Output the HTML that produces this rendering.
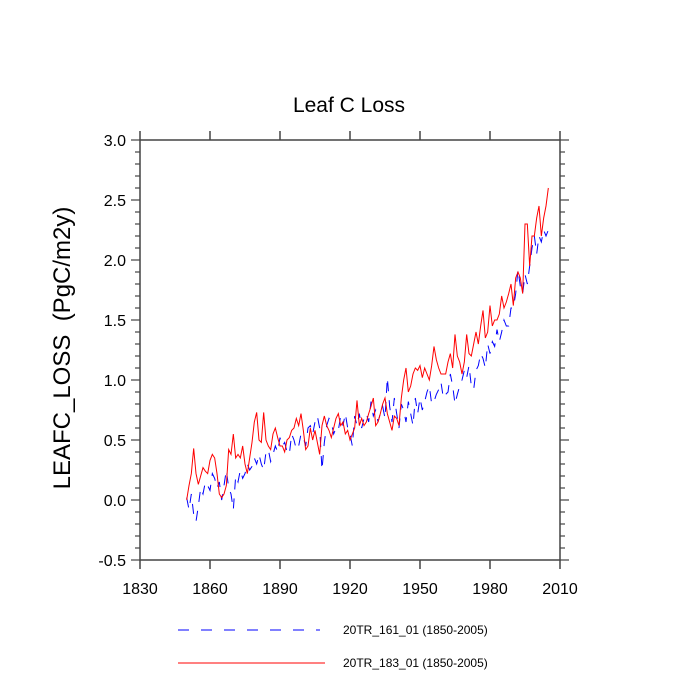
<!DOCTYPE html>
<html><head><meta charset="utf-8"><style>
html,body{margin:0;padding:0;background:#fff;}
svg{display:block;font-family:"Liberation Sans",sans-serif;}
</style></head><body>
<svg id="chart" width="700" height="700" viewBox="0 0 700 700">
<text x="349" y="112" font-size="21" text-anchor="middle">Leaf C Loss</text>
<text transform="translate(70,348) rotate(-90)" font-size="24" text-anchor="middle">LEAFC_LOSS &#160;(PgC/m2y)</text>
<g id="axes"></g>
<g id="series"></g>
<g>
<line x1="178" y1="630" x2="320" y2="630" stroke="#0000ff" stroke-width="1" stroke-dasharray="11,12"/>
<text x="343" y="634" font-size="12">20TR_161_01 (1850-2005)</text>
<line x1="178" y1="663" x2="325" y2="663" stroke="#ff0000" stroke-width="1"/>
<text x="343" y="667" font-size="12">20TR_183_01 (1850-2005)</text>
</g>
</svg>
<script>
const startYear = 1850;
const redValues = [0.00,0.12,0.22,0.43,0.22,0.13,0.20,0.27,0.24,0.22,
0.33,0.38,0.35,0.22,0.05,0.02,0.05,0.12,0.42,0.38,
0.55,0.35,0.38,0.35,0.45,0.30,0.22,0.35,0.48,0.65,
0.73,0.50,0.48,0.73,0.50,0.45,0.42,0.55,0.60,0.52,
0.45,0.45,0.40,0.50,0.52,0.58,0.60,0.68,0.62,0.72,
0.58,0.42,0.45,0.60,0.50,0.58,0.48,0.38,0.62,0.70,
0.62,0.58,0.52,0.60,0.68,0.72,0.62,0.65,0.55,0.58,
0.50,0.55,0.60,0.83,0.62,0.68,0.62,0.65,0.72,0.78,
0.85,0.62,0.65,0.72,0.80,0.85,0.72,0.65,0.58,0.70,
0.68,0.62,0.85,1.00,1.10,0.90,0.95,1.05,1.10,1.08,
1.12,1.02,1.10,1.05,1.00,1.12,1.28,1.17,1.10,1.05,
1.05,1.05,1.15,1.22,1.10,1.38,1.20,1.15,1.05,1.15,
1.38,1.22,1.20,1.30,1.40,1.30,1.45,1.58,1.35,1.40,
1.62,1.45,1.50,1.50,1.55,1.70,1.60,1.65,1.72,1.80,
1.62,1.85,1.90,1.85,1.72,2.30,2.30,1.95,2.20,2.20,
2.35,2.45,2.20,2.35,2.45,2.60];
const blueValues = [0.02,-0.08,0.05,-0.12,-0.18,-0.05,0.10,0.05,0.15,0.12,
0.08,0.22,0.18,0.10,0.15,0.00,0.12,0.25,0.10,0.05,
-0.08,0.20,0.15,0.25,0.18,0.22,0.30,0.25,0.28,0.35,
0.30,0.38,0.30,0.25,0.40,0.42,0.32,0.38,0.45,0.40,
0.52,0.45,0.48,0.40,0.38,0.55,0.50,0.42,0.45,0.55,
0.52,0.45,0.60,0.62,0.55,0.65,0.70,0.60,0.25,0.48,
0.62,0.68,0.65,0.55,0.60,0.58,0.70,0.62,0.72,0.60,
0.55,0.45,0.70,0.62,0.72,0.60,0.68,0.72,0.65,0.82,
0.70,0.75,0.65,0.72,0.78,0.68,1.02,0.78,0.65,0.85,
0.72,0.60,0.80,0.75,0.65,0.82,0.72,0.62,0.85,0.72,
0.85,0.75,0.82,0.90,0.95,0.80,0.82,0.88,0.92,0.98,
0.85,0.88,0.90,1.05,0.95,0.80,0.88,0.95,1.00,1.08,
1.02,1.12,0.95,0.92,1.08,1.12,1.22,1.18,1.10,1.30,
1.22,1.32,1.28,1.42,1.32,1.40,1.50,1.45,1.45,1.60,
1.60,1.72,1.92,1.78,1.72,1.88,1.80,1.95,2.10,2.20,
2.05,2.20,2.15,2.25,2.20,2.25];
const xTicks = [1830,1860,1890,1920,1950,1980,2010];
const yTicks = [-0.5,0.0,0.5,1.0,1.5,2.0,2.5,3.0];
const yTickLabels = ["-0.5","0.0","0.5","1.0","1.5","2.0","2.5","3.0"];

const L=140,R=560,T=140,B=560, X0=1830,X1=2010,Y0=-0.5,Y1=3.0;
const xs = v => L + (v-X0)/(X1-X0)*(R-L);
const ys = v => B - (v-Y0)/(Y1-Y0)*(B-T);
const NS="http://www.w3.org/2000/svg";
function mk(tag, attrs, parent){const e=document.createElementNS(NS,tag);for(const k in attrs)e.setAttribute(k,attrs[k]);parent.appendChild(e);return e;}
const axes=document.getElementById('axes'), series=document.getElementById('series');
const ac="#444";
const frame=mk('rect',{x:L,y:T,width:R-L,height:B-T,fill:'none',stroke:ac,'stroke-width':1.5},axes);


xTicks.forEach(t=>{
  const x=xs(t);
  mk('line',{x1:x,y1:B,x2:x,y2:B+9,stroke:ac,'stroke-width':1.5},axes);
  mk('line',{x1:x,y1:T,x2:x,y2:T-9,stroke:ac,'stroke-width':1.5},axes);
  const tx=mk('text',{x:x,y:B+34,'font-size':16,'text-anchor':'middle'},axes);
  tx.textContent=t;
  
  
});
for(let v=-0.5; v<=3.0001; v+=0.1){
  const y=ys(v); const major=Math.abs(Math.round(v*2)-v*2)<1e-6; const len=major?9:5;
  mk('line',{x1:L,y1:y,x2:L-len,y2:y,stroke:ac,'stroke-width':1.2},axes);
  mk('line',{x1:R,y1:y,x2:R+len,y2:y,stroke:ac,'stroke-width':1.2},axes);
}
yTicks.forEach((t,i)=>{
  const tx=mk('text',{x:L-14,y:ys(t)+6,'font-size':16,'text-anchor':'end'},axes);
  tx.textContent=yTickLabels[i];
  
  
});
function pathFor(vals){return vals.map((v,i)=>(i?'L':'M')+xs(startYear+i).toFixed(2)+','+ys(v).toFixed(2)).join(' ');}
const bl=mk('path',{d:pathFor(blueValues),fill:'none',stroke:'#0000ff','stroke-width':1,'stroke-dasharray':'10,9'},series);


const rl=mk('path',{d:pathFor(redValues),fill:'none',stroke:'#ff0000','stroke-width':1},series);


</script>
</body></html>
